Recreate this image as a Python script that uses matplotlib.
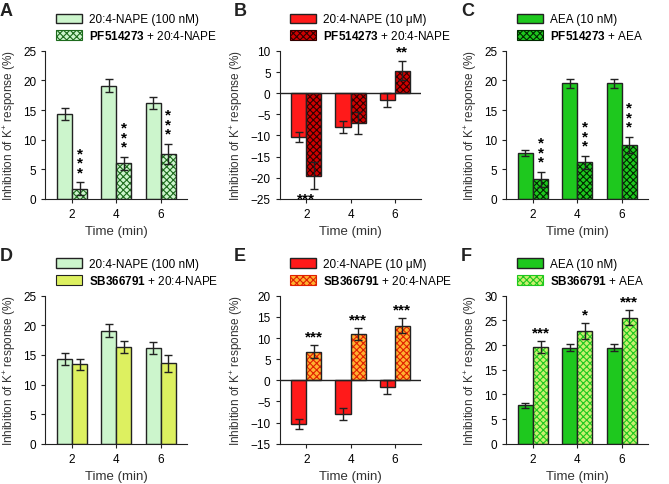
import matplotlib
matplotlib.use("Agg")
import matplotlib.pyplot as plt
from matplotlib.patches import Patch
import numpy as np

plt.rcParams['font.family'] = ['Liberation Sans', 'DejaVu Sans']
plt.rcParams['mathtext.fontset'] = 'custom'
plt.rcParams['mathtext.rm'] = 'Liberation Sans'
plt.rcParams['mathtext.bf'] = 'Liberation Sans:bold'
plt.rcParams['hatch.linewidth'] = 0.8

times = ["2", "4", "6"]

a_ctrl = [14.3, 19.1, 16.2]; a_ctrl_err = [1.0, 1.1, 1.0]
a_trt = [1.7, 6.0, 7.6]; a_trt_err = [1.1, 1.1, 1.7]
b_ctrl = [-10.4, -8.0, -1.6]; b_ctrl_err = [1.2, 1.5, 1.6]
b_trt = [-19.5, -7.0, 5.3]; b_trt_err = [3.2, 2.6, 2.3]
c_ctrl = [7.8, 19.5, 19.5]; c_ctrl_err = [0.5, 0.7, 0.7]
c_trt = [3.3, 6.2, 9.1]; c_trt_err = [1.3, 1.1, 1.4]
d_ctrl = [14.3, 19.1, 16.2]; d_ctrl_err = [1.0, 1.1, 1.0]
d_trt = [13.4, 16.3, 13.6]; d_trt_err = [1.0, 1.0, 1.4]
e_ctrl = [-10.4, -8.0, -1.6]; e_ctrl_err = [1.2, 1.5, 1.6]
e_trt = [6.8, 11.0, 12.9]; e_trt_err = [1.5, 1.5, 1.8]
f_ctrl = [7.8, 19.5, 19.5]; f_ctrl_err = [0.5, 0.7, 0.7]
f_trt = [19.6, 22.8, 25.6]; f_trt_err = [1.2, 1.6, 1.6]

panels = [
    dict(L="A", ctrl=a_ctrl, ce=a_ctrl_err, trt=a_trt, te=a_trt_err, ylim=(0, 25), step=5,
         cc="#ccf5cc", tc="#ccf5cc", hc="#1d6b1d", hatch="xxxxx",
         lab1="20:4-NAPE (100 nM)", lab2=r"$\bf{PF514273}$ + 20:4-NAPE",
         stars=["***", "***", "***"], vert=True, starpos="above"),
    dict(L="B", ctrl=b_ctrl, ce=b_ctrl_err, trt=b_trt, te=b_trt_err, ylim=(-25, 10), step=5,
         cc="#ff1a1a", tc="#d00000", hc="#300000", hatch="xxxxx",
         lab1="20:4-NAPE (10 μM)", lab2=r"$\bf{PF514273}$ + 20:4-NAPE",
         stars=["***", "", "**"], vert=False, starpos="B"),
    dict(L="C", ctrl=c_ctrl, ce=c_ctrl_err, trt=c_trt, te=c_trt_err, ylim=(0, 25), step=5,
         cc="#1ec81e", tc="#1ec81e", hc="#002800", hatch="xxxxx",
         lab1="AEA (10 nM)", lab2=r"$\bf{PF514273}$ + AEA",
         stars=["***", "***", "***"], vert=True, starpos="above"),
    dict(L="D", ctrl=d_ctrl, ce=d_ctrl_err, trt=d_trt, te=d_trt_err, ylim=(0, 25), step=5,
         cc="#ccf5cc", tc="#ddf060", hc=None, hatch=None,
         lab1="20:4-NAPE (100 nM)", lab2=r"$\bf{SB366791}$ + 20:4-NAPE",
         stars=["", "", ""], vert=False, starpos="above"),
    dict(L="E", ctrl=e_ctrl, ce=e_ctrl_err, trt=e_trt, te=e_trt_err, ylim=(-15, 20), step=5,
         cc="#ff1a1a", tc="#ffb030", hc="#e02000", hatch="xxxxx",
         lab1="20:4-NAPE (10 μM)", lab2=r"$\bf{SB366791}$ + 20:4-NAPE",
         stars=["***", "***", "***"], vert=False, starpos="above"),
    dict(L="F", ctrl=f_ctrl, ce=f_ctrl_err, trt=f_trt, te=f_trt_err, ylim=(0, 30), step=5,
         cc="#1ec81e", tc="#c8f070", hc="#1ec81e", hatch="xxxxx",
         lab1="AEA (10 nM)", lab2=r"$\bf{SB366791}$ + AEA",
         stars=["***", "*", "***"], vert=False, starpos="above"),
]

fig = plt.figure(figsize=(6.69, 4.85), dpi=100)
lefts = [0.068, 0.418, 0.757]
bottoms = [0.588, 0.083]
w, h = 0.212, 0.305
x = np.arange(3)
bw = 0.34

for i, p in enumerate(panels):
    ax = fig.add_axes([lefts[i % 3], bottoms[i // 3], w, h])
    xc = x - bw / 2
    xt = x + bw / 2
    ax.bar(xc, p["ctrl"], bw, color=p["cc"], edgecolor="#222222", linewidth=1.0, zorder=2)
    ax.errorbar(xc, p["ctrl"], yerr=p["ce"], fmt="none", ecolor="#222222", elinewidth=1.0, capsize=3, zorder=3)
    if p["hatch"]:
        ax.bar(xt, p["trt"], bw, color=p["tc"], edgecolor=p["hc"], hatch=p["hatch"], linewidth=0, zorder=2)
        ax.bar(xt, p["trt"], bw, fill=False, edgecolor="#222222", linewidth=1.0, zorder=2)
    else:
        ax.bar(xt, p["trt"], bw, color=p["tc"], edgecolor="#222222", linewidth=1.0, zorder=2)
    ax.errorbar(xt, p["trt"], yerr=p["te"], fmt="none", ecolor="#222222", elinewidth=1.0, capsize=3, zorder=3)
    ax.set_ylim(*p["ylim"])
    ax.set_yticks(np.arange(p["ylim"][0], p["ylim"][1] + 0.1, p["step"]))
    ax.set_xlim(-0.6, 2.6)
    ax.set_xticks(x)
    ax.set_xticklabels(times)
    ax.tick_params(labelsize=8.5, length=3, color="#222222")
    for s in ["top", "right"]:
        ax.spines[s].set_visible(False)
    ax.spines["left"].set_color("#222222")
    ax.spines["bottom"].set_color("#222222")
    if p["ylim"][0] < 0:
        ax.axhline(0, color="#222222", linewidth=1.0, zorder=4)
    ax.set_xlabel("Time (min)", fontsize=9.5, color="#333333")
    ax.set_ylabel("Inhibition of K$^{+}$ response (%)", fontsize=8.5, color="#333333")
    span = p["ylim"][1] - p["ylim"][0]
    for j, s in enumerate(p["stars"]):
        if not s:
            continue
        top = p["trt"][j] + p["te"][j]
        if p["starpos"] == "B":
            if p["trt"][j] < 0:
                ax.text(xt[j] - bw / 2, p["ylim"][0] + 0.2, s, ha="center", va="center", fontsize=11, fontweight="bold")
            else:
                ax.text(xt[j], top + 0.02 * span, s, ha="center", va="bottom", fontsize=11, fontweight="bold")
        elif p["vert"]:
            ax.text(xt[j], top + 0.02 * span, "\n".join(s), ha="center", va="bottom",
                    fontsize=11, fontweight="bold", linespacing=0.6)
        else:
            ax.text(xt[j], top + 0.01 * span, s, ha="center", va="bottom", fontsize=11, fontweight="bold")
    handles = [Patch(facecolor=p["cc"], edgecolor="#222222"),
               Patch(facecolor=p["tc"], edgecolor=p["hc"] if p["hatch"] else "#222222",
                     hatch=p["hatch"], linewidth=0.8)]
    ax.legend(handles, [p["lab1"], p["lab2"]], loc="lower left", bbox_to_anchor=(0.03, 1.02),
              frameon=False, fontsize=8.5, handlelength=2.2, handleheight=0.9,
              borderaxespad=0.1, labelspacing=0.3, handletextpad=0.6)
    fig.text(lefts[i % 3] - 0.068, bottoms[i // 3] + h + 0.1, p["L"], fontsize=13,
             fontweight="bold", va="top", color="#222222")

fig.savefig("out.png", dpi=100)
